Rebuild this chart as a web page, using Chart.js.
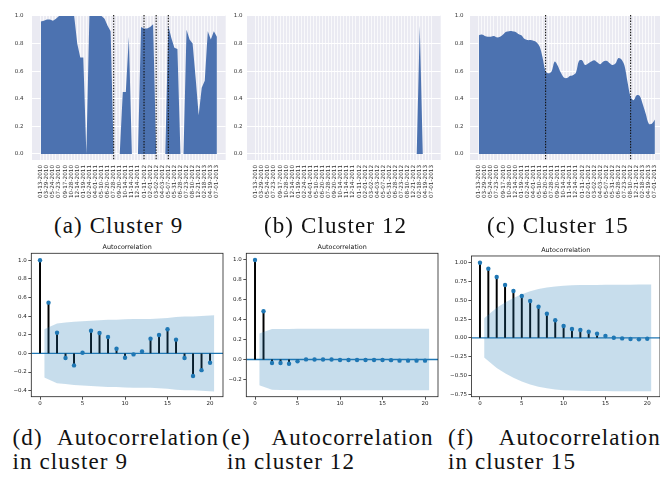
<!doctype html>
<html lang="en">
<head>
<meta charset="utf-8">
<title>Clusters 9, 12, 15 and their autocorrelation</title>
<script src="https://cdn.jsdelivr.net/npm/chart.js"></script>
<style>
  html, body { margin: 0; padding: 0; overflow: hidden; background: #fff; }
  body { position: relative; width: 660px; height: 477px; }
  .panel { position: absolute; }
  .cap { position: absolute; font-family: 'Liberation Serif', 'Times New Roman', serif; font-size: 23px; line-height: 23px; letter-spacing: 1.1px; white-space: nowrap; color: #111; }
</style>
</head>
<body>
  <div class="panel" style="left:0px;top:0px;width:232px;height:205px;"><canvas id="area9"></canvas></div>
  <div class="panel" style="left:224px;top:0px;width:222px;height:205px;"><canvas id="area12"></canvas></div>
  <div class="panel" style="left:446px;top:0px;width:224px;height:205px;"><canvas id="area15"></canvas></div>
  <div class="panel" style="left:0px;top:240px;width:228px;height:172px;"><canvas id="acf9"></canvas></div>
  <div class="panel" style="left:228px;top:240px;width:214px;height:172px;"><canvas id="acf12"></canvas></div>
  <div class="panel" style="left:448px;top:240px;width:216px;height:172px;"><canvas id="acf15"></canvas></div>

  <div class="cap" style="left:54px;top:214px;">(a) Cluster 9</div>
  <div class="cap" style="left:264px;top:214px;">(b) Cluster 12</div>
  <div class="cap" style="left:487px;top:214px;">(c) Cluster 15</div>

  <div class="cap" style="left:12.6px;top:426px;">(d)</div>
  <div class="cap" style="left:57px;top:426px;">Autocorrelation</div>
  <div class="cap" style="left:222px;top:426px;">(e)</div>
  <div class="cap" style="left:271.5px;top:426px;">Autocorrelation</div>
  <div class="cap" style="left:448px;top:426px;">(f)</div>
  <div class="cap" style="left:498.7px;top:426px;">Autocorrelation</div>

  <div class="cap" style="left:12.6px;top:450px;">in cluster 9</div>
  <div class="cap" style="left:227px;top:450px;">in cluster 12</div>
  <div class="cap" style="left:448px;top:450px;">in cluster 15</div>

<script>
// ---- data ------

// every second point carries a date label
const DATES = ['01-13-2010', '03-29-2010', '05-24-2010', '07-23-2010', '09-17-2010', '10-28-2010',
  '12-14-2010', '01-19-2011', '02-24-2011', '04-01-2011', '05-10-2011', '06-20-2011', '07-28-2011',
  '09-20-2011', '10-14-2011', '11-14-2011', '12-14-2011', '01-11-2012', '02-01-2012', '03-02-2012',
  '04-03-2012', '05-07-2012', '05-31-2012', '06-28-2012', '07-23-2012', '08-10-2012', '12-21-2012',
  '02-18-2013', '04-19-2013', '07-01-2013']

const CLUSTER_9 = [0.96, 0.965, 0.975, 0.975, 0.965, 0.98, 1, 1, 1, 1, 1, 1, 0.8, 0.7, 0.7, 0,
  1, 1, 1, 1, 1, 0.98, 0.93, 0.89, 0, 0, 0, 0.45, 0.45, 0.85, 0, 0, 0, 0.92, 0.91, 0.91, 0.92, 0.94,
  0, 0, 0, 0, 0.93, 0.84, 0.77, 0.76, 0, 0, 0.9, 0.83, 0.8, 0.55, 0.28, 0.48, 0.53, 0.89, 0.83, 0.89, 0.85]

const CLUSTER_12 = [0, 0, 0, 0, 0, 0, 0, 0, 0, 0, 0, 0, 0, 0, 0, 0, 0, 0, 0, 0, 0, 0, 0, 0, 0, 0, 0,
  0, 0, 0, 0, 0, 0, 0, 0, 0, 0, 0, 0, 0, 0, 0, 0, 0, 0, 0, 0, 0, 0, 0, 0, 0, 0, 0, 0.93, 0, 0, 0, 0]

const CLUSTER_15 = [0.86, 0.865, 0.855, 0.85, 0.85, 0.855, 0.845, 0.85, 0.865, 0.885, 0.89, 0.89,
  0.885, 0.87, 0.86, 0.835, 0.825, 0.825, 0.82, 0.81, 0.78, 0.7, 0.6, 0.585, 0.6, 0.67, 0.64, 0.59,
  0.555, 0.55, 0.565, 0.57, 0.59, 0.675, 0.68, 0.645, 0.655, 0.67, 0.68, 0.665, 0.65, 0.67, 0.675,
  0.66, 0.645, 0.655, 0.695, 0.685, 0.64, 0.52, 0.415, 0.39, 0.425, 0.42, 0.36, 0.29, 0.22, 0.22, 0.25]

// dotted change points (point index)
const BREAKS_9 = [24, 34, 38, 42]
const BREAKS_12 = []
const BREAKS_15 = [22, 50]

const AREA_YTICKS = [0, 0.2, 0.4, 0.6, 0.8, 1.0]

const LAGS = [0, 1, 2, 3, 4, 5, 6, 7, 8, 9, 10, 11, 12, 13, 14, 15, 16, 17, 18, 19, 20]

const ACF_9 = [1.0, 0.544, 0.222, -0.05, -0.129, 0.007, 0.243, 0.218, 0.175, 0.05, -0.047,
  -0.011, 0.02, 0.158, 0.197, 0.258, 0.147, -0.05, -0.243, -0.18, -0.1]
const ACF_12 = [1.0, 0.484, -0.036, -0.036, -0.043, -0.019, 0.001, 0, 0, 0, -0.005, -0.005,
  -0.005, -0.005, -0.006, -0.006, -0.007, -0.012, -0.012, -0.012, -0.012]
const ACF_15 = [1.0, 0.92, 0.81, 0.703, 0.623, 0.557, 0.49, 0.415, 0.322, 0.234, 0.158, 0.118,
  0.105, 0.083, 0.056, 0.025, 0.003, -0.006, -0.015, -0.019, -0.01]

// half width of the confidence band, lags 1..20
const BAND_9 = [0.26, 0.32, 0.33, 0.34, 0.345, 0.35, 0.355, 0.36, 0.36, 0.365, 0.37, 0.37, 0.37,
  0.375, 0.38, 0.39, 0.395, 0.395, 0.4, 0.41]
const BAND_12 = [0.26, 0.305, 0.306, 0.307, 0.308, 0.308, 0.308, 0.308, 0.308, 0.308, 0.308, 0.308,
  0.308, 0.308, 0.308, 0.308, 0.308, 0.308, 0.308, 0.308]
const BAND_15 = [0.26, 0.4, 0.47, 0.53, 0.58, 0.62, 0.65, 0.67, 0.685, 0.695, 0.7, 0.702, 0.704,
  0.705, 0.706, 0.707, 0.708, 0.708, 0.709, 0.71]

const ACF_XTICKS = [0, 5, 10, 15, 20]
const ACF_YTICKS_9 = [-0.4, -0.2, 0, 0.2, 0.4, 0.6, 0.8, 1.0]
const ACF_YTICKS_12 = [-0.2, 0, 0.2, 0.4, 0.6, 0.8, 1.0]
const ACF_YTICKS_15 = [-0.75, -0.5, -0.25, 0, 0.25, 0.5, 0.75, 1.0]

// ---- charts ------

Chart.defaults.font.family = "'DejaVu Sans', sans-serif"
Chart.defaults.animation = false
Chart.defaults.plugins.legend.display = false
Chart.defaults.plugins.tooltip.enabled = false

const AREA_BLUE = '#4c72b0'
const ACF_BLUE = '#1f77b4'

const panelBackground = {
  id: 'panelBackground',
  beforeDraw(chart, args, opts) {
    const { ctx, chartArea: a } = chart
    ctx.save()
    ctx.fillStyle = opts.color
    ctx.fillRect(a.left, a.top, a.right - a.left, a.bottom - a.top)
    ctx.restore()
  }
}

const breakLines = {
  id: 'breakLines',
  afterDatasetsDraw(chart, args, opts) {
    const { ctx, chartArea: a, scales } = chart
    ctx.save()
    ctx.strokeStyle = '#111'
    ctx.lineWidth = 1.1
    ctx.setLineDash([1.4, 1.4])
    for (const i of opts.at) {
      const x = scales.x.getPixelForValue(i)
      ctx.beginPath()
      ctx.moveTo(x, a.top)
      ctx.lineTo(x, a.bottom)
      ctx.stroke()
    }
    ctx.restore()
  }
}

const acfFrame = {
  id: 'acfFrame',
  beforeDatasetsDraw(chart) {
    const { ctx, chartArea: a, scales } = chart
    const y = scales.y.getPixelForValue(0)
    ctx.save()
    ctx.strokeStyle = ACF_BLUE
    ctx.lineWidth = 1.3
    ctx.beginPath()
    ctx.moveTo(a.left, y)
    ctx.lineTo(a.right, y)
    ctx.stroke()
    ctx.restore()
  },
  afterDraw(chart) {
    const { ctx, chartArea: a } = chart
    ctx.save()
    ctx.strokeStyle = '#222'
    ctx.lineWidth = 0.8
    ctx.strokeRect(a.left, a.top, a.right - a.left, a.bottom - a.top)
    ctx.restore()
  }
}

function areaChart(id, values, breaks, dims, smooth) {
  const last = values.length - 1
  const margin = last * 0.05
  return new Chart(document.getElementById(id), {
    type: 'line',
    data: {
      datasets: [{
        data: values.map((v, i) => ({ x: i, y: v })),
        fill: 'origin',
        backgroundColor: AREA_BLUE,
        borderWidth: 0,
        borderColor: 'rgba(0,0,0,0)',
        pointRadius: 0,
        tension: smooth ? 0.35 : 0,
      }]
    },
    options: {
      responsive: true,
      maintainAspectRatio: false,
      layout: { padding: { top: 15, right: dims.padRight, left: 0, bottom: 0 } },
      scales: {
        x: {
          type: 'linear',
          min: -margin,
          max: last + margin,
          afterBuildTicks: (s) => { s.ticks = values.map((v, i) => ({ value: i })) },
          afterFit: (s) => { s.height = 45 },
          ticks: {
            autoSkip: false,
            minRotation: 90,
            maxRotation: 90,
            padding: 5,
            font: { size: 5.7 },
            color: '#333',
            callback: (v) => (v % 2 === 0 ? DATES[v / 2] : ''),
          },
          grid: { color: '#fff', lineWidth: 0.7, drawTicks: false },
          border: { display: false },
        },
        y: {
          min: -0.0435,
          max: 1.007,
          afterBuildTicks: (s) => { s.ticks = AREA_YTICKS.map((v) => ({ value: v })) },
          afterFit: (s) => { s.width = dims.yWidth },
          ticks: {
            padding: dims.yPad,
            font: { size: 5.5 },
            color: '#333',
            callback: (v) => v.toFixed(1),
          },
          grid: { color: '#fff', lineWidth: 1, drawTicks: false },
          border: { display: false },
        }
      },
      plugins: {
        panelBackground: { color: '#eaeaf2' },
        breakLines: { at: breaks },
      }
    },
    plugins: [panelBackground, breakLines]
  })
}

function fmt(v, digits) {
  return (v < 0 ? '\u2212' : '') + Math.abs(v).toFixed(digits)
}

function acfChart(id, acf, band, yTicks, yMin, yMax, digits, dims) {
  const points = LAGS.map((l, i) => ({ x: l, y: acf[i] }))
  // statsmodels widens the band by half a lag at both ends
  const bandX = LAGS.slice(1).map((l, i, arr) => (i === 0 ? l - 0.5 : i === arr.length - 1 ? l + 0.5 : l))
  return new Chart(document.getElementById(id), {
    type: 'bar',
    data: {
      datasets: [
        {
          type: 'line',
          data: bandX.map((x, i) => ({ x: x, y: -band[i] })),
          borderWidth: 0,
          pointRadius: 0,
          fill: false,
          order: 0,
        },
        {
          type: 'line',
          data: bandX.map((x, i) => ({ x: x, y: band[i] })),
          borderWidth: 0,
          pointRadius: 0,
          fill: '-1',
          backgroundColor: 'rgba(31,119,180,0.25)',
          order: 0,
        },
        {
          type: 'scatter',
          data: points,
          pointRadius: 2.2,
          pointBackgroundColor: ACF_BLUE,
          pointBorderWidth: 0,
          order: 1,
        },
        {
          type: 'bar',
          data: points,
          backgroundColor: '#000',
          barThickness: 1.3,
          grouped: false,
          order: 3,
        },
      ]
    },
    options: {
      responsive: true,
      maintainAspectRatio: false,
      layout: { padding: { top: 0, right: dims.padRight, left: 0, bottom: 0 } },
      scales: {
        x: {
          type: 'linear',
          min: -1.025,
          max: 21.525,
          offset: false,
          afterBuildTicks: (s) => { s.ticks = ACF_XTICKS.map((v) => ({ value: v })) },
          afterFit: (s) => { s.height = 15.3 },
          ticks: { padding: 1, font: { size: 5.5 }, color: '#222' },
          grid: { display: true, drawOnChartArea: false, drawTicks: true, tickLength: 3, color: '#222', lineWidth: 0.8, offset: false },
          border: { display: false },
        },
        y: {
          min: yMin,
          max: yMax,
          afterBuildTicks: (s) => { s.ticks = yTicks.map((v) => ({ value: v })) },
          afterFit: (s) => { s.width = dims.yWidth },
          ticks: { padding: 1.5, font: { size: 5.5 }, color: '#222', callback: (v) => fmt(v, digits) },
          grid: { drawOnChartArea: false, drawTicks: true, tickLength: 3, color: '#222', lineWidth: 0.8 },
          border: { display: false },
        }
      },
      plugins: {
        title: {
          display: true,
          text: 'Autocorrelation',
          fullSize: false,
          color: '#111',
          font: { size: 6.4, weight: 'normal' },
          padding: { top: dims.titleTop, bottom: dims.titleBottom },
        }
      }
    },
    plugins: [acfFrame]
  })
}

areaChart('area9', CLUSTER_9, BREAKS_9, { yWidth: 32, yPad: 8.5, padRight: 6.3 }, false)
areaChart('area12', CLUSTER_12, BREAKS_12, { yWidth: 23, yPad: 4.5, padRight: 5.3 }, false)
areaChart('area15', CLUSTER_15, BREAKS_15, { yWidth: 24, yPad: 6.5, padRight: 6.3 }, true)

acfChart('acf9', ACF_9, BAND_9, ACF_YTICKS_9, -0.465, 1.074, 1,
  { yWidth: 31.3, padRight: 5, titleTop: 3.2, titleBottom: 2.4 })
acfChart('acf12', ACF_12, BAND_12, ACF_YTICKS_12, -0.374, 1.067, 1,
  { yWidth: 18.3, padRight: 4, titleTop: 3.2, titleBottom: 2.4 })
acfChart('acf15', ACF_15, BAND_15, ACF_YTICKS_15, -0.781, 1.089, 2,
  { yWidth: 23.4, padRight: 3.9, titleTop: 6.5, titleBottom: 1.8 })
</script>
</body>
</html>
